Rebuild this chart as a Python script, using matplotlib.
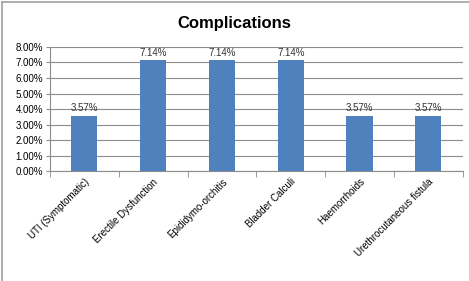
import matplotlib.pyplot as plt
import numpy as np
from matplotlib.lines import Line2D

categories = ["UTI (Symptomatic)", "Erectile Dysfunction", "Epididymo-orchitis",
              "Bladder Calculi", "Haemorrhoids", "Urethrocutaneous fistula"]
values = [3.57, 7.14, 7.14, 7.14, 3.57, 3.57]
yticks = [0, 1, 2, 3, 4, 5, 6, 7, 8]

plt.rcParams['font.family'] = ['Liberation Sans', 'DejaVu Sans']

fig = plt.figure(figsize=(4.69, 2.81), dpi=100)
# chart frame only shows on top and left edges
fig.lines.append(Line2D([0.005, 0.005], [0, 0.993], transform=fig.transFigure,
                        color='#a0a0a0', linewidth=1.2))
fig.lines.append(Line2D([0.005, 1.0], [0.993, 0.993], transform=fig.transFigure,
                        color='#a0a0a0', linewidth=1.2))
ax = fig.add_axes([0.1066, 0.391, 0.880, 0.442])

x = np.arange(len(categories))
ax.bar(x, values, width=0.38, color='#4f81bd', zorder=3)
for xi, v in zip(x, values):
    ax.text(xi, v + 0.15, "%.2f%%" % v, ha='center', va='bottom', fontsize=7, color='#333333')

ax.set_xlim(-0.5, len(categories) - 0.5)
ax.set_ylim(0, 8)
ax.set_yticks(yticks)
ax.set_yticklabels(["%.2f%%" % t for t in yticks], fontsize=7)
ax.yaxis.grid(True, color='#8c8c8c', linewidth=0.8, zorder=0)

ax.set_xticks(x)
ax.set_xticklabels(categories, rotation=45, ha='right', rotation_mode='anchor', fontsize=7)
ax.tick_params(axis='x', length=0, pad=4)
ax.set_xticks(np.arange(len(categories) + 1) - 0.5, minor=True)
ax.tick_params(axis='x', which='minor', length=4, color='#8c8c8c')
ax.tick_params(axis='y', length=3, color='#8c8c8c', pad=2)

for s in ['top', 'right']:
    ax.spines[s].set_visible(False)
ax.spines['left'].set_color('#8c8c8c')
ax.spines['bottom'].set_color('#8c8c8c')

fig.text(0.5, 0.915, "Complications", ha='center', va='center', fontsize=12, fontweight='bold')

plt.savefig("out.png", dpi=100)
